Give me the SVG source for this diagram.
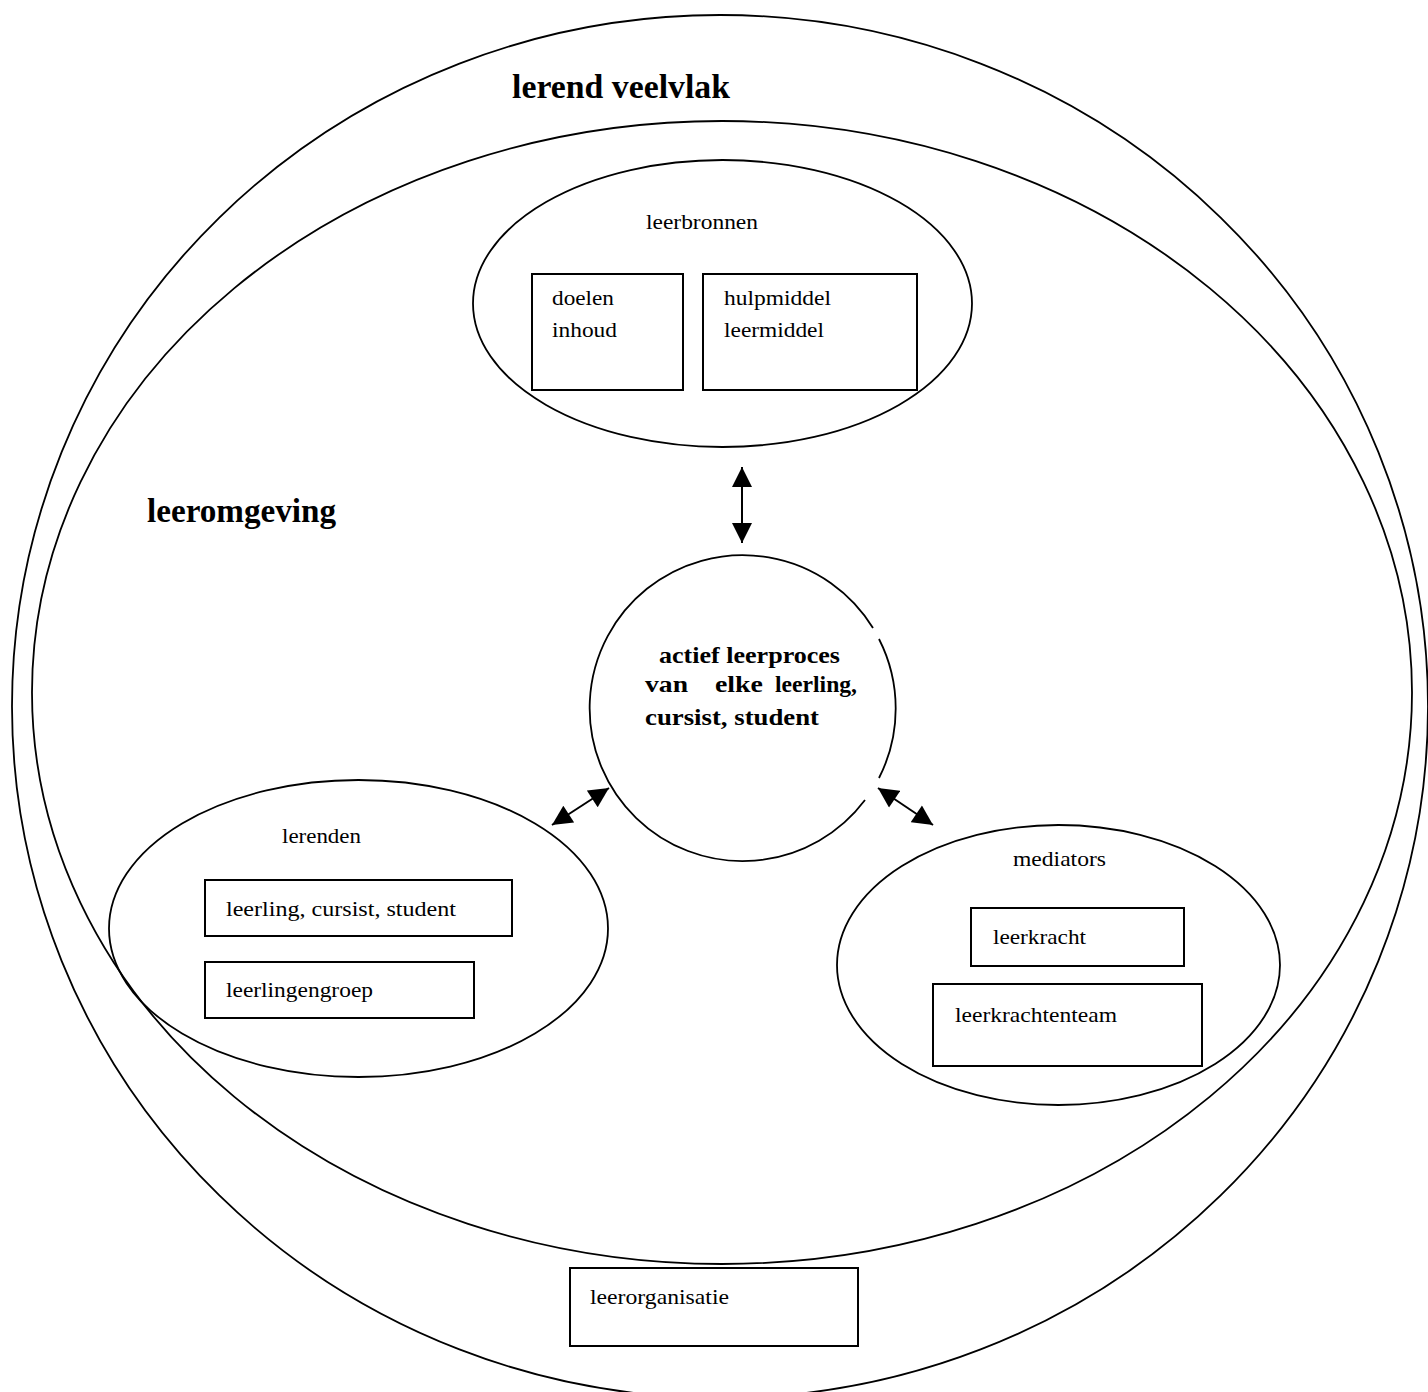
<svg xmlns="http://www.w3.org/2000/svg" width="1428" height="1392" viewBox="0 0 1428 1392">
<defs>
<style>
.ln{fill:none;stroke:#000;stroke-width:1.8}
.bx{fill:#fff;stroke:#000;stroke-width:2}
.t{font-size:22px;fill:#000}
.tb{font-weight:bold;fill:#000}
.ar{stroke:#000;stroke-width:2;fill:none}
</style>
<marker id="ah" viewBox="0 0 10 10" refX="10" refY="5" markerWidth="21" markerHeight="20" markerUnits="userSpaceOnUse" orient="auto-start-reverse">
<path d="M0,0 L10,5 L0,10 Z" fill="#000"/>
</marker>
</defs>
<rect width="1428" height="1392" fill="#fff"/>
<g font-family="Liberation Serif, Times New Roman, serif">
<g id="lerend-veelvlak">
<ellipse class="ln" cx="720" cy="706.5" rx="708" ry="691.5"/>
<text class="tb" x="512" y="98" font-size="33" textLength="218" lengthAdjust="spacingAndGlyphs">lerend veelvlak</text>
</g>
<g id="leeromgeving">
<ellipse class="ln" cx="722" cy="692.5" rx="690" ry="571.5"/>
<text class="tb" x="147" y="522" font-size="33" textLength="189" lengthAdjust="spacingAndGlyphs">leeromgeving</text>
</g>
<g id="leerbronnen">
<ellipse class="ln" cx="722.5" cy="303.5" rx="249.5" ry="143.5"/>
<text class="t" x="646" y="229" textLength="112" lengthAdjust="spacingAndGlyphs">leerbronnen</text>
<rect class="bx" x="532" y="274" width="151" height="116"/>
<text class="t" x="552" y="305" textLength="62" lengthAdjust="spacingAndGlyphs">doelen</text>
<text class="t" x="552" y="337" textLength="65" lengthAdjust="spacingAndGlyphs">inhoud</text>
<rect class="bx" x="703" y="274" width="214" height="116"/>
<text class="t" x="724" y="305" textLength="107" lengthAdjust="spacingAndGlyphs">hulpmiddel</text>
<text class="t" x="724" y="337" textLength="100" lengthAdjust="spacingAndGlyphs">leermiddel</text>
</g>
<g id="leerproces">
<path class="ln" d="M873,628 A153,153 0 1 0 865,800"/>
<path class="ln" d="M879,639 A153,153 0 0 1 879,778"/>
<text class="tb" x="659" y="663" font-size="23" textLength="181" lengthAdjust="spacingAndGlyphs">actief leerproces</text>
<text class="tb" font-size="23" y="692"><tspan x="645" textLength="43" lengthAdjust="spacingAndGlyphs">van</tspan><tspan x="715" textLength="48" lengthAdjust="spacingAndGlyphs">elke</tspan><tspan x="775" textLength="82" lengthAdjust="spacingAndGlyphs">leerling,</tspan></text>
<text class="tb" x="645" y="725" font-size="23" textLength="174" lengthAdjust="spacingAndGlyphs">cursist, student</text>
</g>
<g id="lerenden">
<ellipse class="ln" cx="358.5" cy="928.5" rx="249.5" ry="148.5"/>
<text class="t" x="282" y="843" textLength="79" lengthAdjust="spacingAndGlyphs">lerenden</text>
<rect class="bx" x="205" y="880" width="307" height="56"/>
<text class="t" x="226" y="916" textLength="230" lengthAdjust="spacingAndGlyphs">leerling, cursist, student</text>
<rect class="bx" x="205" y="962" width="269" height="56"/>
<text class="t" x="226" y="997" textLength="147" lengthAdjust="spacingAndGlyphs">leerlingengroep</text>
</g>
<g id="mediators">
<ellipse class="ln" cx="1058.5" cy="965" rx="221.5" ry="140"/>
<text class="t" x="1013" y="866" textLength="93" lengthAdjust="spacingAndGlyphs">mediators</text>
<rect class="bx" x="971" y="908" width="213" height="58"/>
<text class="t" x="993" y="944" textLength="93" lengthAdjust="spacingAndGlyphs">leerkracht</text>
<rect class="bx" x="933" y="984" width="269" height="82"/>
<text class="t" x="955" y="1022" textLength="162" lengthAdjust="spacingAndGlyphs">leerkrachtenteam</text>
</g>
<g id="leerorganisatie">
<rect class="bx" x="570" y="1268" width="288" height="78"/>
<text class="t" x="590" y="1304" textLength="139" lengthAdjust="spacingAndGlyphs">leerorganisatie</text>
</g>
</g>
<g id="connectors">
<line class="ar" x1="742" y1="467" x2="742" y2="543" marker-start="url(#ah)" marker-end="url(#ah)"/>
<line class="ar" x1="552" y1="825" x2="609" y2="788" marker-start="url(#ah)" marker-end="url(#ah)"/>
<line class="ar" x1="878" y1="788" x2="933" y2="825" marker-start="url(#ah)" marker-end="url(#ah)"/>
</g>
</svg>
